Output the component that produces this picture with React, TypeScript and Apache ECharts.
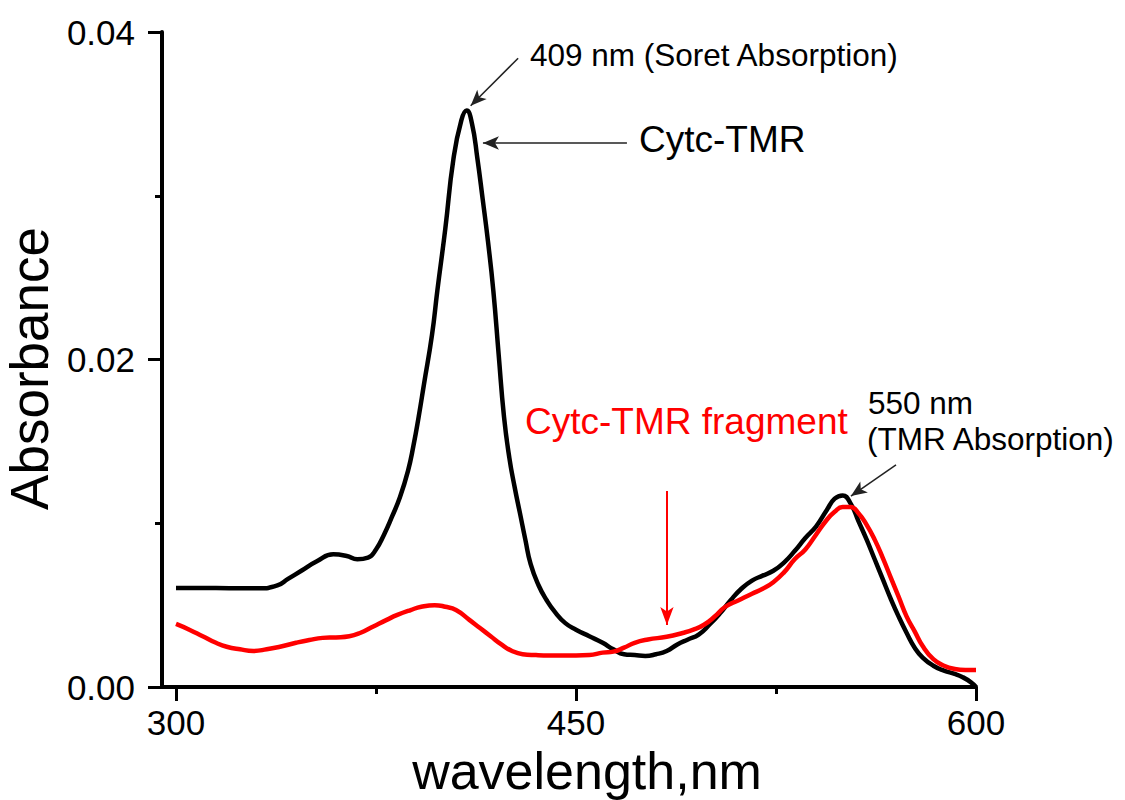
import React, { useEffect, useRef } from "react";
import * as echarts from "echarts";

// Wavelength (nm) and absorbance samples for the two spectra
const cytcWavelength = [
  300, 310, 320, 331, 338, 342, 347, 353, 359, 364, 368, 372, 375, 378, 381, 384, 387, 389, 391, 393,
  396, 398, 401, 404, 407, 409, 411, 413, 415, 417, 419, 421, 423, 425, 427, 429, 431, 433, 436, 439,
  442, 446, 450, 455, 460, 464, 468, 472, 476, 480, 484, 488, 492, 496, 500, 504, 508, 512, 516, 520,
  524, 528, 532, 536, 540, 544, 547, 550, 553, 556, 559, 562, 565, 568, 571, 574, 577, 580, 584, 588,
  592, 595, 598, 600,
];
const cytcAbsorbance = [
  0.00605, 0.00605, 0.00603, 0.00603, 0.0062, 0.0066, 0.0071, 0.0077, 0.0081, 0.008, 0.0078, 0.0079,
  0.0084, 0.0093, 0.0104, 0.0116, 0.0132, 0.0147, 0.0165, 0.0185, 0.0215, 0.0242, 0.028, 0.0322,
  0.0346, 0.0352, 0.0344, 0.0323, 0.0298, 0.0272, 0.0242, 0.0203, 0.0165, 0.014, 0.0122, 0.0106,
  0.009, 0.0075, 0.0062, 0.0053, 0.0046, 0.0039, 0.0035, 0.0031, 0.0027, 0.0023, 0.002, 0.00195,
  0.0019, 0.002, 0.0022, 0.0026, 0.0029, 0.0032, 0.0038, 0.0045, 0.0053, 0.006, 0.0065, 0.0068,
  0.0071, 0.0076, 0.0083, 0.0091, 0.0098, 0.0108, 0.0115, 0.0117, 0.0112, 0.0101, 0.009, 0.0078,
  0.0066, 0.0054, 0.0043, 0.0033, 0.0024, 0.0018, 0.0013, 0.001, 0.0008, 0.0006, 0.0003, 0.0,
];

const fragmentWavelength = [
  300, 305, 310, 315, 319, 324, 329, 334, 339, 345, 350, 355, 360, 365, 369, 374, 379, 383, 388, 392,
  397, 401, 405, 410, 414, 418, 422, 426, 430, 435, 440, 445, 450, 455, 460, 464, 468, 472, 477, 484,
  490, 494, 498, 502, 506, 511, 516, 520, 524, 528, 532, 536, 540, 544, 547, 550, 553, 556, 559, 562,
  565, 568, 571, 574, 577, 580, 584, 588, 592, 596, 600,
];
const fragmentAbsorbance = [
  0.00385, 0.0035, 0.0031, 0.0027, 0.00246, 0.0023, 0.0022, 0.0023, 0.00246, 0.0027, 0.00287, 0.003,
  0.00303, 0.0031, 0.0033, 0.0037, 0.0041, 0.0044, 0.0047, 0.0049, 0.005, 0.0049, 0.0047, 0.0041,
  0.0036, 0.0031, 0.0026, 0.0022, 0.002, 0.00195, 0.00193, 0.00193, 0.00193, 0.00195, 0.0021,
  0.00216, 0.0024, 0.0027, 0.0029, 0.00307, 0.0033, 0.0035, 0.0038, 0.0043, 0.0049, 0.0053, 0.0057,
  0.006, 0.0064, 0.007, 0.0078, 0.0084, 0.0093, 0.0102, 0.0107, 0.011, 0.011, 0.0106, 0.0099, 0.009,
  0.0079, 0.0067, 0.0055, 0.0043, 0.0034, 0.0025, 0.0017, 0.0013, 0.0011, 0.00104, 0.00104,
];

// Axis ticks
const xMajorTicks = [300, 450, 600];
const xMinorTicks = [375, 525];
const yTickInterval = 0.02;

// Annotation arrows in data coordinates: [fromX, fromY, toX, toY]
const soretArrow = [428.3, 0.0384, 410.5, 0.0355];
const cytcArrow = [469.1, 0.03322, 415.1, 0.03322];
const fragmentArrow = [484.1, 0.01197, 484.1, 0.00379];
const tmrArrow = [570, 0.01356, 553.1, 0.01166];

const FONT = "'Liberation Sans', Arial, sans-serif";

const zip = (xs: number[], ys: number[]) => xs.map((x, i) => [x, ys[i]]);
const arrowLine = (a: number[]) => [{ coord: [a[0], a[1]] }, { coord: [a[2], a[3]] }];

export default function App() {
  const ref = useRef<HTMLDivElement>(null);

  useEffect(() => {
    if (!ref.current) return;
    const chart = echarts.init(ref.current, null, { renderer: "svg" });

    const axisLineStyle = { color: "#000", width: 4 };

    chart.setOption({
      animation: false,
      backgroundColor: "#fff",
      grid: { left: 162, right: 149, top: 32, bottom: 113, containLabel: false, outerBoundsMode: "none" },
      xAxis: [
        {
          type: "value",
          min: 294.75,
          max: 600,
          name: "wavelength,nm",
          nameLocation: "middle",
          nameGap: 53,
          nameTextStyle: { fontSize: 52, fontFamily: FONT, color: "#000", padding: [0, 0, 0, 36] },
          axisLine: { show: true, onZero: false, lineStyle: axisLineStyle },
          axisTick: { show: true, length: 14, lineStyle: { color: "#000", width: 3 }, customValues: xMajorTicks },
          axisLabel: {
            show: true,
            customValues: xMajorTicks,
            fontSize: 35,
            fontFamily: FONT,
            color: "#000",
            margin: 18,
          },
          splitLine: { show: false },
        },
        {
          type: "value",
          position: "bottom",
          min: 294.75,
          max: 600,
          axisLine: { show: false },
          axisTick: { show: true, length: 7, lineStyle: { color: "#000", width: 3 }, customValues: xMinorTicks },
          axisLabel: { show: false },
          splitLine: { show: false },
        },
      ],
      yAxis: {
        type: "value",
        min: 0,
        max: 0.04,
        interval: yTickInterval,
        name: "Absorbance",
        nameLocation: "middle",
        nameGap: 96,
        nameTextStyle: { fontSize: 53, fontFamily: FONT, color: "#000", padding: [0, 18, 0, 0] },
        axisLine: { show: true, lineStyle: axisLineStyle },
        axisTick: { show: true, length: 14, lineStyle: { color: "#000", width: 3 } },
        minorTick: { show: true, splitNumber: 2, length: 7, lineStyle: { color: "#000", width: 3 } },
        axisLabel: {
          fontSize: 35,
          fontFamily: FONT,
          color: "#000",
          margin: 27,
          formatter: (v: number) => v.toFixed(2),
        },
        splitLine: { show: false },
      },
      series: [
        {
          name: "Cytc-TMR",
          type: "line",
          data: zip(cytcWavelength, cytcAbsorbance),
          showSymbol: false,
          smooth: 0.5,
          lineStyle: { color: "#000", width: 4.5 },
          z: 2,
          markLine: {
            silent: true,
            symbol: ["none", "arrow"],
            symbolSize: [10, 16],
            label: { show: false },
            lineStyle: { color: "#222", width: 1.5, type: "solid" },
            data: [arrowLine(soretArrow), arrowLine(cytcArrow), arrowLine(tmrArrow)],
          },
        },
        {
          name: "Cytc-TMR fragment",
          type: "line",
          data: zip(fragmentWavelength, fragmentAbsorbance),
          showSymbol: false,
          smooth: 0.5,
          lineStyle: { color: "#ff0000", width: 4.5 },
          z: 3,
          markLine: {
            silent: true,
            symbol: ["none", "arrow"],
            symbolSize: [10, 18],
            label: { show: false },
            lineStyle: { color: "#ff0000", width: 2, type: "solid" },
            data: [arrowLine(fragmentArrow)],
          },
        },
      ],
      graphic: [
        {
          type: "text",
          left: 530,
          top: 39,
          style: { text: "409 nm (Soret Absorption)", font: `31.5px ${FONT}`, fill: "#000" },
        },
        {
          type: "text",
          left: 639,
          top: 121,
          style: { text: "Cytc-TMR", font: `37px ${FONT}`, fill: "#000" },
        },
        {
          type: "text",
          left: 525,
          top: 403,
          style: { text: "Cytc-TMR fragment", font: `37px ${FONT}`, fill: "#ff0000" },
        },
        {
          type: "text",
          left: 868,
          top: 387,
          style: { text: "550 nm", font: `31.5px ${FONT}`, fill: "#000" },
        },
        {
          type: "text",
          left: 867,
          top: 423,
          style: { text: "(TMR Absorption)", font: `31.5px ${FONT}`, fill: "#000" },
        },
      ],
    });

    return () => chart.dispose();
  }, []);

  return (
    <div
      ref={ref}
      style={{ position: "fixed", left: 0, top: 0, width: 1125, height: 800, background: "#fff" }}
    />
  );
}
